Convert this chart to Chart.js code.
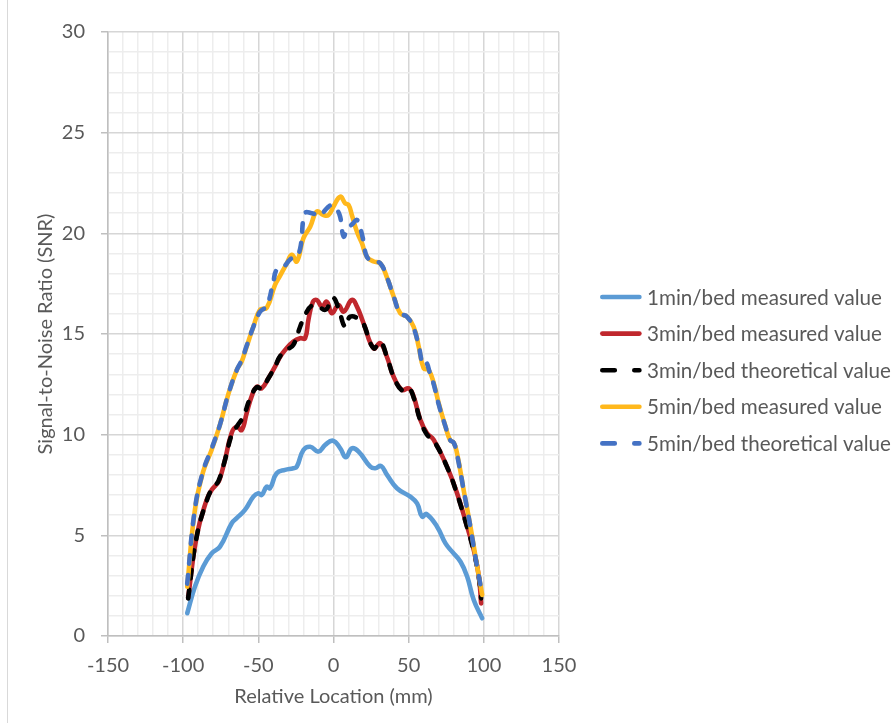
<!DOCTYPE html>
<html>
<head>
<meta charset="utf-8">
<script src="https://cdn.jsdelivr.net/npm/chart.js@4.4.1/dist/chart.umd.min.js"></script>
<style>
  html, body { margin: 0; padding: 0; background: #ffffff; }
  #wrap { position: relative; width: 894px; height: 723px; }
  #frame { position: absolute; left: 7px; top: 0; width: 0; height: 723px; border-left: 1px solid #d9d9d9; }
  canvas { position: absolute; left: 0; top: 0; }
</style>
</head>
<body>
<div id="wrap">
  <div id="frame"></div>
  <canvas id="c" width="894" height="723"></canvas>
</div>
<script>
// ---------- data ----------
const seriesLabels = [
  '1min/bed measured value',
  '3min/bed measured value',
  '3min/bed theoretical value',
  '5min/bed measured value',
  '5min/bed theoretical value'
];

const loc1 = [-97.3,-92.2,-86.7,-81.1,-75.5,-67.7,-64.4,-58.9,-53.3,-50,-47.8,-44.4,-42.2,-37.8,-32.2,-26.7,-24.4,-20,-15.5,-10,-5.5,-0.4,4.5,8.2,12.2,16.7,24.5,27.8,31.6,35.6,42.2,51.1,55.6,58.9,61.8,68.9,74.5,78.9,84.5,88.9,93.3,98.9];
const snr1 = [1.13,2.45,3.44,4.1,4.44,5.6,5.85,6.26,6.92,7.09,7.0,7.42,7.34,8.08,8.25,8.33,8.41,9.24,9.4,9.16,9.49,9.7,9.32,8.88,9.32,9.16,8.41,8.33,8.44,8.0,7.34,6.92,6.59,5.93,6.06,5.43,4.6,4.19,3.69,2.95,1.79,0.88];

const loc3m = [-96.7,-91.1,-84.4,-81.1,-77,-75.5,-72.2,-67.7,-64.4,-61.1,-57.8,-54.5,-51.1,-47.8,-43.3,-38.9,-35.5,-32.2,-26.7,-22.2,-18.9,-16.7,-13.7,-11.1,-7.7,-4.4,-1.1,3.3,6.7,12.2,15.6,20,26.7,31.1,35.5,40,45.6,50,53.3,57.8,62.2,66.7,75.5,82.2,88.9,93.3,96.7,98.2];
const snr3m = [1.9,4.93,6.76,7.25,7.6,7.83,8.74,10.1,10.4,10.23,11.06,11.89,12.38,12.3,12.8,13.38,13.87,14.21,14.62,14.79,14.79,15.7,16.6,16.69,16.36,16.6,16.03,16.44,16.11,16.69,16.36,15.53,14.29,14.54,13.87,12.88,12.22,12.3,11.89,10.73,10.07,9.74,8.41,7.09,5.43,4.27,2.95,1.62];

const loc3t = [-96.7,-91.1,-84.4,-80,-76.7,-72.2,-67.7,-64.4,-60,-55.5,-51.1,-47.8,-43.3,-38.9,-35.5,-31.1,-26.7,-22.2,-18.9,-14.5,-10,-5.5,-2.5,0,3.3,7.8,11.1,17.8,20,26.7,31.1,35.5,40,45.6,50,53.3,57.8,62.2,66.7,75.5,82.2,88.9,93.3,96.7,98.2];
const snr3t = [1.87,4.9,6.7,7.42,7.67,8.74,10.0,10.4,10.9,11.8,12.35,12.3,12.8,13.38,13.9,14.21,14.46,15.36,15.95,16.4,16.36,16.2,16.5,16.8,16.28,15.36,15.86,15.7,15.5,14.29,14.6,13.87,12.88,12.2,12.3,11.85,10.7,10.0,9.7,8.4,7.05,5.4,4.2,2.9,1.87];

const loc5m = [-97.3,-92.2,-86.7,-81.1,-75.5,-70,-64.4,-61.1,-57.8,-53.3,-48.9,-44.4,-38.9,-35.5,-31.1,-27.7,-24.4,-20,-15.5,-11.1,-6.7,-3.3,0,4.5,7.8,10,12.2,15.6,18.9,22.2,26.7,31.1,35.6,40,44.4,48.9,53.3,56.7,60,63.3,66.7,70,74.5,77.5,80,82.2,86.7,91.1,95.6,98.9];
const snr5m = [2.45,6.26,8.16,9.24,10.5,12.0,13.21,13.63,14.37,15.36,16.2,16.3,17.44,17.9,18.5,18.93,18.6,19.76,20.33,21.08,20.91,20.91,21.33,21.82,21.49,21.41,20.91,20.08,19.51,18.84,18.6,18.51,17.8,16.86,16.03,15.86,15.36,14.37,13.3,13.21,12.55,11.56,10.4,9.74,9.6,9.07,7.2,5.43,3.44,2.04];

const loc5t = [-97.3,-92.2,-86.7,-81.1,-75.5,-70,-64.4,-61.1,-57.8,-53.3,-48.9,-44.4,-40,-37.8,-33,-28.9,-24.4,-22,-18.9,-14.4,-8.9,-4.4,-1.1,2,4.4,6.7,8.9,13,15.6,17.8,20,22.2,26.7,31.1,35.6,40,44.4,48.9,53.3,56.7,59.5,61.5,64,66.7,70,74.5,77.5,80,82.2,86.7,91.1,95.6,98.9];
const snr5t = [2.6,6.3,8.2,9.3,10.5,12.0,13.2,13.7,14.4,15.36,16.1,16.4,17.6,18.18,18.35,18.7,18.9,19.3,21.0,21.0,20.91,21.25,21.4,21.2,20.83,19.84,20.17,20.5,20.67,20.25,19.6,18.84,18.6,18.51,17.8,16.86,16.03,15.86,15.3,14.4,13.5,13.6,13.1,12.5,11.5,10.4,9.74,9.6,9.0,7.2,5.4,3.4,2.1];

const xTickMin = -150, xTickMax = 150, xMajor = 50, xMinor = 10;
const yTickMin = 0, yTickMax = 30, yMajor = 5, yMinor = 1;
const xTitle = 'Relative Location (mm)';
const yTitle = 'Signal-to-Noise Ratio (SNR)';

// ---------- build ----------
function pts(xs, ys) { return xs.map((x, i) => ({ x: x, y: ys[i] })); }

const TEXT = '#595959';
const FONT = 'Lato';
const DASH = [8.5, 11.5];

const styles = [
  { color: '#5B9BD5', dash: [] , order: 5 },
  { color: '#C0272D', dash: [] , order: 4 },
  { color: '#000000', dash: DASH, order: 3 },
  { color: '#FFB81C', dash: [] , order: 2 },
  { color: '#4472C4', dash: DASH, order: 1 }
];
const seriesData = [pts(loc1, snr1), pts(loc3m, snr3m), pts(loc3t, snr3t), pts(loc5m, snr5m), pts(loc5t, snr5t)];

const datasets = seriesData.map((d, i) => ({
  label: seriesLabels[i],
  data: d,
  borderColor: styles[i].color,
  backgroundColor: styles[i].color,
  borderWidth: 4.6,
  borderDash: styles[i].dash,
  borderCapStyle: 'round',
  borderJoinStyle: 'round',
  pointRadius: 0,
  pointHoverRadius: 0,
  tension: 0.45,
  fill: false,
  order: styles[i].order
}));

const legendPlugin = {
  id: 'sideLegend',
  afterDraw(chart) {
    const ctx = chart.ctx;
    ctx.save();
    chart.data.datasets.forEach((ds, i) => {
      const y = 297 + i * 36.6;
      ctx.strokeStyle = ds.borderColor;
      ctx.lineWidth = 4.6;
      ctx.lineCap = 'round';
      ctx.setLineDash(ds.borderDash && ds.borderDash.length ? [12.5, 19.5] : []);
      ctx.beginPath();
      ctx.moveTo(602.3, y);
      ctx.lineTo(639.4, y);
      ctx.stroke();
      ctx.setLineDash([]);
      ctx.fillStyle = TEXT;
      ctx.font = '20.6px ' + FONT;
      ctx.textBaseline = 'middle';
      ctx.textAlign = 'left';
      ctx.fillText(ds.label, 647, y + 1);
    });
    ctx.restore();
  }
};

const majorX = v => Math.abs(v % xMajor) < 1e-6;
const majorY = v => Math.abs(v % yMajor) < 1e-6;

new Chart(document.getElementById('c'), {
  type: 'line',
  data: { datasets: datasets },
  options: {
    responsive: false,
    animation: false,
    devicePixelRatio: 1,
    layout: { padding: { left: 0, right: 335, top: 32, bottom: 0 } },
    plugins: { legend: { display: false }, tooltip: { enabled: false } },
    scales: {
      x: {
        type: 'linear',
        min: xTickMin, max: xTickMax,
        afterFit(scale) { scale.height = 87; },
        ticks: {
          stepSize: xMinor, autoSkip: false, maxRotation: 0, minRotation: 0,
          color: TEXT, font: { family: FONT, size: 20 }, padding: 11,
          callback: v => majorX(v) ? String(v) : ''
        },
        grid: {
          color: c => majorX(c.tick.value) ? '#d6d6d6' : '#ededed',
          lineWidth: 1.5,
          tickLength: 7,
          tickColor: c => majorX(c.tick.value) ? '#bfbfbf' : 'rgba(0,0,0,0)',
          tickWidth: 1.5
        },
        border: { color: '#bfbfbf', width: 1.5 },
        title: { display: true, text: xTitle, color: TEXT, font: { family: FONT, size: 20 }, padding: { top: 0, bottom: 14 } }
      },
      y: {
        type: 'linear',
        min: yTickMin, max: yTickMax,
        afterFit(scale) { scale.width = 108; },
        ticks: {
          stepSize: yMinor, autoSkip: false,
          color: TEXT, font: { family: FONT, size: 20 }, padding: 16,
          callback: v => majorY(v) ? String(v) : ''
        },
        grid: {
          color: c => majorY(c.tick.value) ? '#d6d6d6' : '#ededed',
          lineWidth: 1.5,
          tickLength: 7,
          tickColor: c => majorY(c.tick.value) ? '#bfbfbf' : 'rgba(0,0,0,0)',
          tickWidth: 1.5
        },
        border: { color: '#bfbfbf', width: 1.5 },
        title: { display: true, text: yTitle, color: TEXT, font: { family: FONT, size: 20 }, padding: { top: 34, bottom: 0 } }
      }
    }
  },
  plugins: [legendPlugin]
});
</script>
</body>
</html>
